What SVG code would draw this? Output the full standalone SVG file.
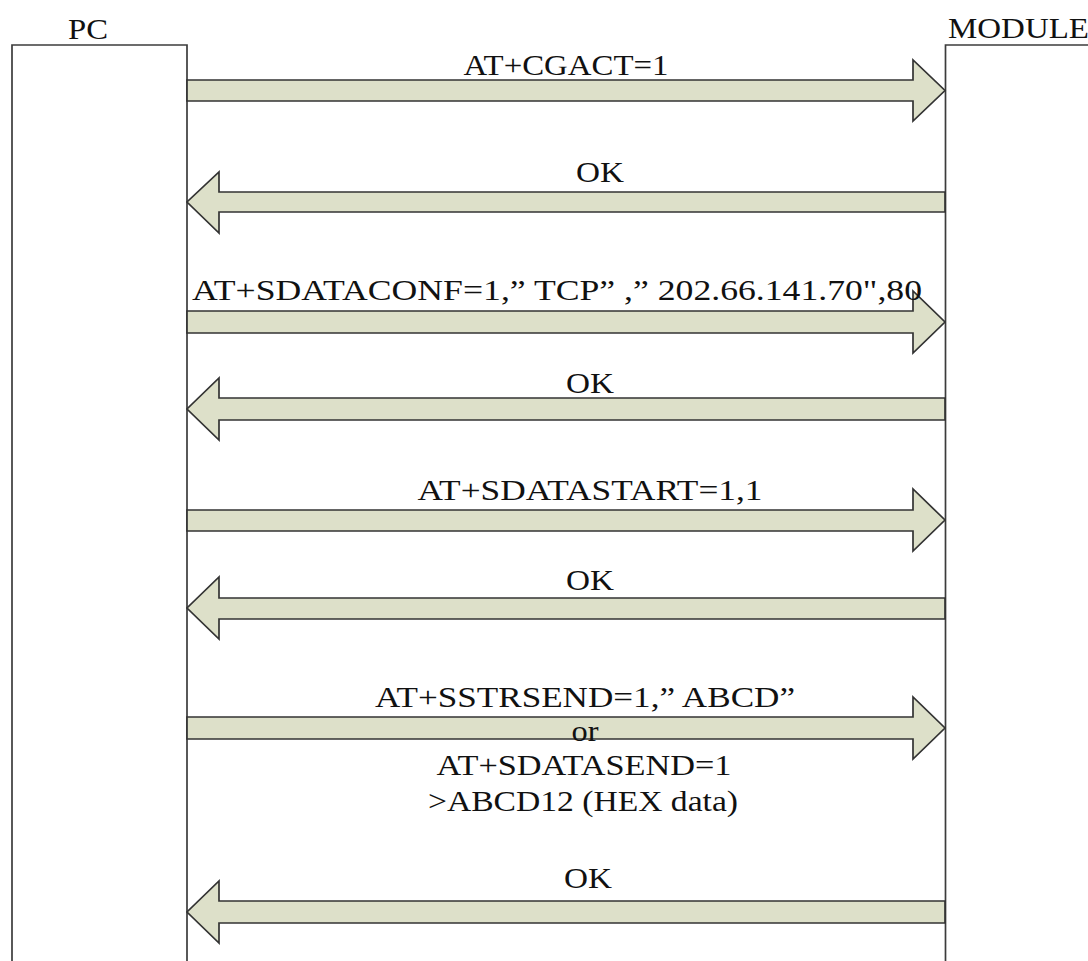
<svg xmlns="http://www.w3.org/2000/svg" width="1088" height="961" viewBox="0 0 1088 961">
<style>
.life{fill:none;stroke:#3c3c3c;stroke-width:1.7}
.arr{fill:#dde0c9;stroke:#333;stroke-width:1.7;stroke-linejoin:miter}
.t{font-family:"Liberation Serif","Times New Roman",serif;font-size:30px;fill:#111}
.m{text-anchor:middle}
</style>
<rect width="1088" height="961" fill="#fff"/>
<g id="pc">
<path class="life" d="M12,961 V45 H187 V961"/>
<text class="t m" x="88" y="39" textLength="40" lengthAdjust="spacingAndGlyphs">PC</text>
</g>
<g id="module">
<path class="life" d="M945.5,961 V45 H1090"/>
<text class="t" x="948" y="38" textLength="141" lengthAdjust="spacingAndGlyphs">MODULE</text>
</g>
<g id="connectors">
<polygon class="arr" points="187,80 913,80 913,60 945,90.5 913,121 913,101 187,101"/>
<polygon class="arr" points="945,192 219,192 219,172 187,202 219,233 219,212 945,212"/>
<polygon class="arr" points="187,311 913,311 913,291 945,322 913,353 913,333 187,333"/>
<polygon class="arr" points="945,398 219,398 219,378 187,409 219,440 219,420 945,420"/>
<polygon class="arr" points="187,510 913,510 913,489 945,520 913,551 913,531 187,531"/>
<polygon class="arr" points="945,598 219,598 219,577 187,608 219,639 219,619 945,619"/>
<polygon class="arr" points="187,717 913,717 913,697 945,728 913,759 913,739 187,739"/>
<polygon class="arr" points="945,901 219,901 219,881 187,912 219,943 219,923 945,923"/>
</g>
<g id="labels">
<text class="t m" x="566" y="75" textLength="205" lengthAdjust="spacingAndGlyphs">AT+CGACT=1</text>
<text class="t m" x="600" y="182" textLength="48" lengthAdjust="spacingAndGlyphs">OK</text>
<text class="t" x="192" y="300" textLength="730" lengthAdjust="spacingAndGlyphs">AT+SDATACONF=1,” TCP” ,” 202.66.141.70",80</text>
<text class="t m" x="590" y="393" textLength="48" lengthAdjust="spacingAndGlyphs">OK</text>
<text class="t m" x="590" y="500" textLength="345" lengthAdjust="spacingAndGlyphs">AT+SDATASTART=1,1</text>
<text class="t m" x="590" y="590" textLength="48" lengthAdjust="spacingAndGlyphs">OK</text>
<text class="t" x="375" y="707" textLength="420" lengthAdjust="spacingAndGlyphs">AT+SSTRSEND=1,” ABCD”</text>
<text class="t m" x="585" y="741" textLength="27" lengthAdjust="spacingAndGlyphs">or</text>
<text class="t m" x="584" y="775" textLength="295" lengthAdjust="spacingAndGlyphs">AT+SDATASEND=1</text>
<text class="t m" x="583" y="811" textLength="310" lengthAdjust="spacingAndGlyphs">&gt;ABCD12 (HEX data)</text>
<text class="t m" x="588" y="888" textLength="48" lengthAdjust="spacingAndGlyphs">OK</text>
</g>
</svg>
